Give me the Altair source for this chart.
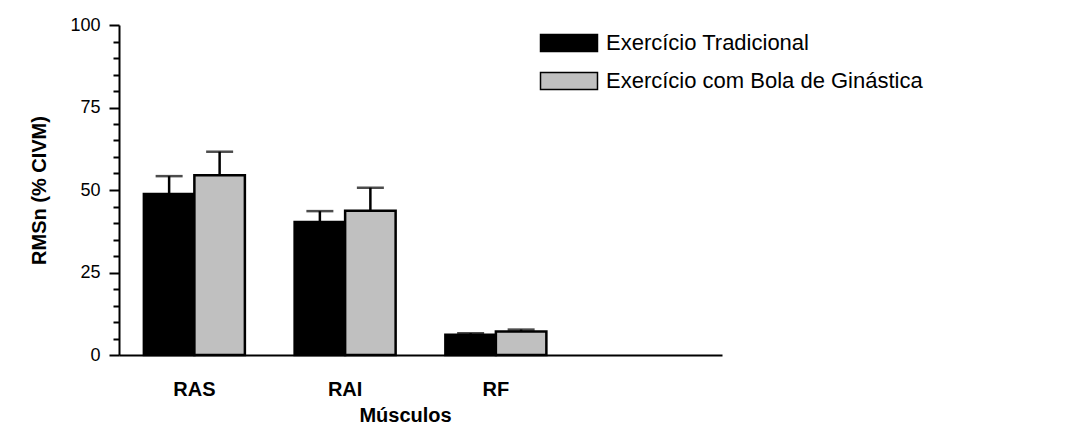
import altair as alt
import pandas as pd

categories = ["RAS", "RAI", "RF"]
x_domain = ["RAS", "RAI", "RF", " "]
series = ["Exercício Tradicional", "Exercício com Bola de Ginástica"]
trad_mean = [48.8, 40.3, 6.1]
trad_err = [5.4, 3.3, 0.5]
bola_mean = [54.5, 43.7, 7.1]
bola_err = [7.1, 7.0, 0.6]
y_values = list(range(0, 101, 5))

rows = []
for i, c in enumerate(categories):
    rows.append({"musculo": c, "grupo": series[0], "media": trad_mean[i], "sup": trad_mean[i] + trad_err[i]})
    rows.append({"musculo": c, "grupo": series[1], "media": bola_mean[i], "sup": bola_mean[i] + bola_err[i]})
df = pd.DataFrame(rows)

FONT = "Liberation Sans"

x_axis = alt.Axis(title="Músculos", labelAngle=0, ticks=False, labelPadding=24,
                  labelFont=FONT, labelFontSize=20, labelFontWeight="bold", labelColor="black",
                  titleFont=FONT, titleFontSize=20, titleFontWeight="bold", titleColor="black",
                  titlePadding=6, titleX=286, domainColor="black", domainWidth=2)
y_axis = alt.Axis(title="RMSn (% CIVM)", values=y_values, grid=False,
                  labelExpr="datum.value % 25 === 0 ? datum.label : ''",
                  tickSize={"condition": {"test": "datum.value % 25 === 0", "value": 10}, "value": 6},
                  tickColor="black", tickWidth=2, labelPadding=9,
                  labelFont=FONT, labelFontSize=18, labelColor="black",
                  titleFont=FONT, titleFontSize=20, titleFontWeight="bold", titleColor="black",
                  titlePadding=20, domainColor="black", domainWidth=2)
x_scale = alt.Scale(domain=x_domain, paddingInner=0.33, paddingOuter=0.165)
xoff = alt.XOffset("grupo:N", scale=alt.Scale(domain=series, paddingInner=0, paddingOuter=0))
y_scale = alt.Scale(domain=[0, 100], nice=False)

bars = alt.Chart(df).mark_bar(stroke="black", strokeWidth=2.5).encode(
    x=alt.X("musculo:N", scale=x_scale, axis=x_axis),
    xOffset=xoff,
    y=alt.Y("media:Q", scale=y_scale, axis=y_axis),
    color=alt.Color("grupo:N", scale=alt.Scale(domain=series, range=["#000000", "#c0c0c0"]),
                    legend=alt.Legend(title=None, orient="none", legendX=435, legendY=3,
                                      symbolType="M-2,-0.6H2V0.6H-2Z", symbolSize=812,
                                      symbolStrokeColor="black", symbolStrokeWidth=1.5,
                                      labelFont=FONT, labelFontSize=22, labelColor="black",
                                      labelLimit=600, rowPadding=11, labelOffset=22)),
)

stems = alt.Chart(df).mark_rule(color="black", strokeWidth=2.5).encode(
    x=alt.X("musculo:N", scale=x_scale, axis=x_axis), xOffset=xoff,
    y=alt.Y("media:Q", scale=y_scale, axis=y_axis), y2="sup:Q",
)
caps = alt.Chart(df).mark_tick(color="black", thickness=2.5, size=27, orient="horizontal").encode(
    x=alt.X("musculo:N", scale=x_scale, axis=x_axis), xOffset=xoff,
    y=alt.Y("sup:Q", scale=y_scale, axis=y_axis),
)

chart = alt.layer(bars, stems, caps).properties(
    width=603, height=330,
    background="white",
    autosize=alt.AutoSizeParams(type="none"),
    padding={"left": 111, "top": 17, "right": 360, "bottom": 75},
).configure_view(stroke=None, strokeWidth=0)

chart.save("out.html", embed_options={"renderer": "svg", "actions": False})
